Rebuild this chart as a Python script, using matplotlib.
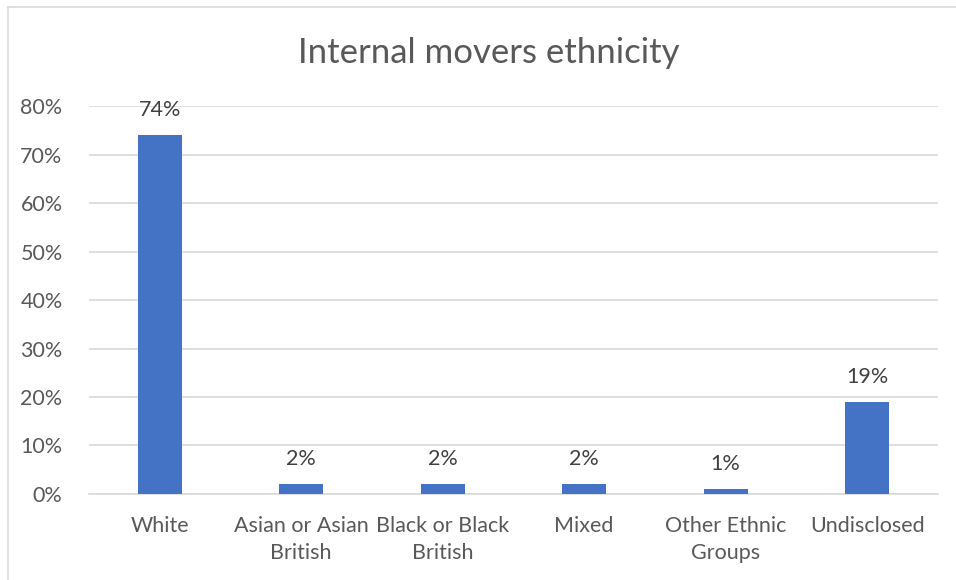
import matplotlib.pyplot as plt
from matplotlib.lines import Line2D
from matplotlib.ticker import FuncFormatter

categories = ["White", "Asian or Asian\nBritish", "Black or Black\nBritish", "Mixed",
              "Other Ethnic\nGroups", "Undisclosed"]
values = [74, 2, 2, 2, 1, 19]
yticks = [0, 10, 20, 30, 40, 50, 60, 70, 80]

text_col = "#595959"
plt.rcParams["font.family"] = ["Lato", "DejaVu Sans"]

fig = plt.figure(figsize=(9.56, 5.8), dpi=100)
ax = fig.add_axes([0.0931, 0.1483, 0.8879, 0.6689])

x = range(len(categories))
bars = ax.bar(x, values, width=0.31, color="#4472C4", zorder=3)
for rect, v in zip(bars, values):
    ax.annotate(f"{v}%", (rect.get_x() + rect.get_width() / 2, v),
                xytext=(0, 11), textcoords="offset points", ha="center", va="bottom",
                fontsize=15.5, color="#404040")

ax.set_xlim(-0.5, len(categories) - 0.5)
ax.set_ylim(0, 80)
ax.set_yticks(yticks)
ax.yaxis.set_major_formatter(FuncFormatter(lambda v, _: f"{v:.0f}%"))
ax.set_xticks(list(x))
ax.set_xticklabels(categories, linespacing=1.45)
ax.tick_params(axis="both", length=0, labelsize=15.5, colors=text_col)
ax.tick_params(axis="x", pad=16)
ax.tick_params(axis="y", pad=19)
ax.grid(axis="y", color="#D9D9D9", linewidth=1.2, zorder=0)
for s in ["top", "right", "left"]:
    ax.spines[s].set_visible(False)
ax.spines["bottom"].set_color("#D9D9D9")
ax.spines["bottom"].set_linewidth(1.2)

fig.text(0.511, 0.908, "Internal movers ethnicity", ha="center", va="center",
         fontsize=25, color=text_col)

# chart border (left and top edges visible in the crop)
fig.add_artist(Line2D([8 / 956, 8 / 956], [0, 1 - 7 / 580], color="#D9D9D9", lw=1.2))
fig.add_artist(Line2D([8 / 956, 1], [1 - 7 / 580, 1 - 7 / 580], color="#D9D9D9", lw=1.2))

fig.savefig("out.png", dpi=100)
